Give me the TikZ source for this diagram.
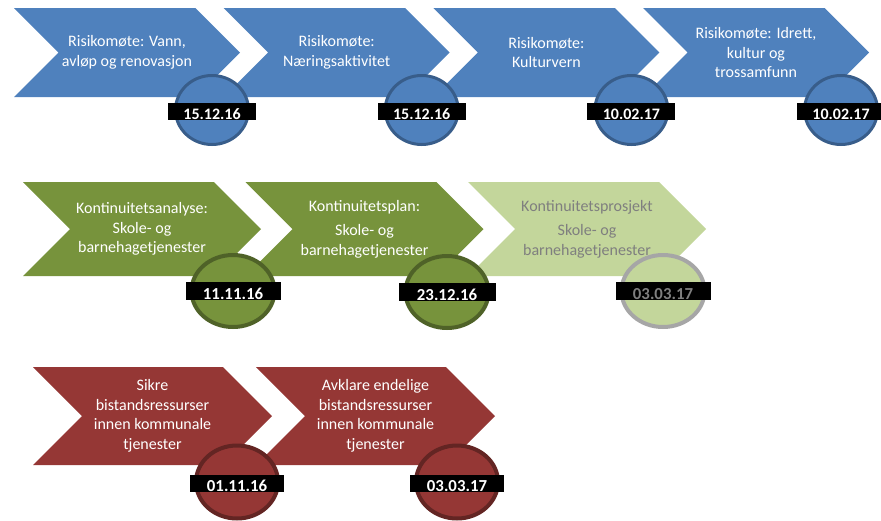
\documentclass[tikz,border=0pt]{standalone}
\usepackage{fontspec}
\setmainfont{Carlito}
\usetikzlibrary{shapes.symbols,shapes.geometric,positioning}
\definecolor{riskBlue}{HTML}{4F81BD}
\definecolor{riskBlueDark}{HTML}{385D8A}
\definecolor{planGreen}{HTML}{77933C}
\definecolor{planGreenDark}{HTML}{4F6228}
\definecolor{planLight}{HTML}{C3D69B}
\definecolor{planGray}{HTML}{A6A6A6}
\definecolor{planText}{HTML}{7F7F7F}
\definecolor{aidRed}{HTML}{953735}
\definecolor{aidRedDark}{HTML}{632523}

\begin{document}
\begin{tikzpicture}[
  x=1pt, y=-1pt,
  chevron/.style={signal, signal from=west, signal to=east, signal pointer angle=90, inner sep=0pt, text=white, align=center, font=\fontsize{16}{19.5}\selectfont},
  blueStep/.style={chevron, fill=riskBlue, minimum width=226pt, minimum height=89pt},
  greenStep/.style={chevron, fill=planGreen, minimum width=238pt, minimum height=94pt},
  lightStep/.style={chevron, fill=planLight, text=planText, minimum width=238pt, minimum height=94pt},
  redStep/.style={chevron, fill=aidRed, minimum width=239pt, minimum height=98pt},
  milestone/.style={ellipse, inner sep=0pt},
  blueDot/.style={milestone, fill=riskBlue, draw=riskBlueDark, line width=3pt, minimum width=73pt, minimum height=69pt},
  greenDot/.style={milestone, fill=planGreen, draw=planGreenDark, line width=4pt, minimum width=83pt, minimum height=72pt},
  lightDot/.style={milestone, fill=planLight, draw=planGray, line width=4pt, minimum width=83pt, minimum height=72pt},
  redDot/.style={milestone, fill=aidRed, draw=aidRedDark, line width=4pt, minimum width=82pt, minimum height=73pt},
  datebar/.style={fill=black, text=white, inner sep=0pt, text height=16pt, text depth=0pt, minimum height=17pt, font=\bfseries\fontsize{16}{16}\selectfont},
  bigdate/.style={datebar, font=\bfseries\fontsize{16.8}{16}\selectfont}
]
\useasboundingbox (0,0) rectangle (881,520);

% risikomøter
\node[blueStep] (vann) at (127,52.5) {Risikomøte: Vann,\\avløp og renovasjon};
\node[blueStep] (naering) at (336.7,52.5) {Risikomøte:\\Næringsaktivitet};
\node[blueStep] (kulturvern) at (546.4,52.5) {Risikomøte:\\Kulturvern};
\node[blueStep] (idrett) at (756,52.5) {Risikomøte: Idrett,\\kultur og\\trossamfunn};
\node[blueDot] (vannDot) at (212,110) {};
\node[blueDot] (naeringDot) at (421.7,110) {};
\node[blueDot] (kulturvernDot) at (631.4,110) {};
\node[blueDot] (idrettDot) at (841,110) {};
\node[datebar, minimum width=88pt] at ([yshift=-1.5pt]vannDot.center) {15.12.16};
\node[datebar, minimum width=88pt] at ([yshift=-1.5pt]naeringDot.center) {15.12.16};
\node[datebar, minimum width=88pt] at ([yshift=-1.5pt]kulturvernDot.center) {10.02.17};
\node[datebar, minimum width=88pt] at ([yshift=-1.5pt]idrettDot.center) {10.02.17};

% kontinuitet
\node[greenStep] (analyse) at (142,229) {Kontinuitetsanalyse:\\Skole- og\\barnehagetjenester};
\node[greenStep] (plan) at (364.5,229) {Kontinuitetsplan:\\[5pt]Skole- og\\barnehagetjenester};
\node[lightStep] (prosjekt) at (587,229) {Kontinuitetsprosjekt\\[5pt]Skole- og\\barnehagetjenester};
\node[greenDot] (analyseDot) at (233,291) {};
\node[greenDot] (planDot) at (447,292) {};
\node[lightDot] (prosjektDot) at (663,291) {};
\node[bigdate, minimum width=95pt, minimum height=18pt] at (analyseDot.center) {11.11.16};
\node[bigdate, minimum width=97pt, minimum height=18pt] at (planDot.center) {23.12.16};
\node[bigdate, minimum width=95pt, minimum height=18pt, text=planText] at (prosjektDot.center) {03.03.17};

% bistandsressurser
\node[redStep] (sikre) at (152.5,416) {Sikre\\bistandsressurser\\innen kommunale\\tjenester};
\node[redStep] (avklare) at (375.5,416) {Avklare endelige\\bistandsressurser\\innen kommunale\\tjenester};
\node[redDot] (sikreDot) at (237,482) {};
\node[redDot] (avklareDot) at (457,482) {};
\node[bigdate, minimum width=94pt] at ([yshift=-1pt]sikreDot.center) {01.11.16};
\node[bigdate, minimum width=94pt] at ([yshift=-1pt]avklareDot.center) {03.03.17};
\end{tikzpicture}
\end{document}
